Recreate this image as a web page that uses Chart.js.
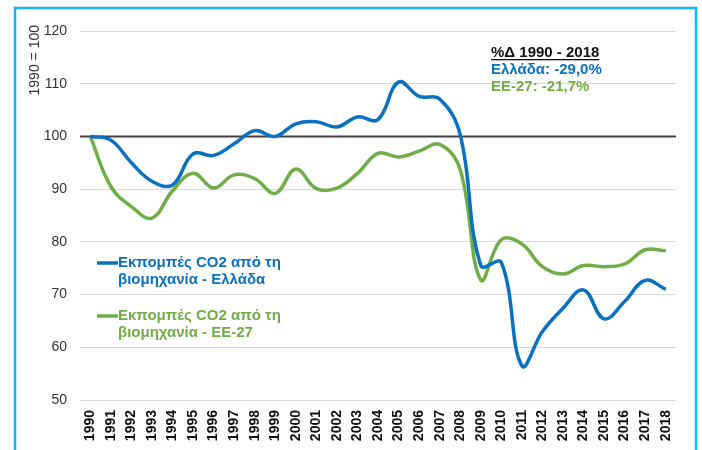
<!DOCTYPE html>
<html>
<head>
<meta charset="utf-8">
<script src="https://cdn.jsdelivr.net/npm/chart.js@4.4.1/dist/chart.umd.min.js"></script>
<style>
html,body{margin:0;padding:0;background:#fff;}
#wrap{position:relative;width:702px;height:450px;}
</style>
</head>
<body>
<div id="wrap"><canvas id="c" width="702" height="450"></canvas></div>
<script>
const years = ['1990','1991','1992','1993','1994','1995','1996','1997','1998','1999','2000','2001','2002','2003','2004','2005','2006','2007','2008','2009','2010','2011','2012','2013','2014','2015','2016','2017','2018'];
const greece = [100,99.3,95,91.5,90.8,96.7,96.4,98.6,101.1,100,102.4,102.8,101.8,103.7,103.2,110.3,107.6,107.1,100.3,75.5,76.1,56.5,63,67.4,70.9,65.4,68.7,72.7,71.0];
const eu27 = [100,90.5,86.7,84.5,89.7,93.0,90.2,92.7,92,89.2,93.8,90.1,90.2,93,96.8,96.1,97.2,98.5,93.7,72.8,80.4,79.6,75.3,73.9,75.5,75.3,75.8,78.5,78.3];
const seriesLabels = [['Εκπομπές CO2 από τη','βιομηχανία - Ελλάδα'],['Εκπομπές CO2 από τη','βιομηχανία - ΕΕ-27']];
const yTicks = [50,60,70,80,90,100,110,120];
const yTitle = '1990 = 100';
const noteTitle = '%Δ 1990 - 2018';
const noteLines = ['Ελλάδα: -29,0%','ΕΕ-27: -21,7%'];
const baseline = 100;

const BLUE = '#0a70c0';
const GREEN = '#70ad47';
const FONT = "'Liberation Sans', Arial, sans-serif";

const extras = {
  id: 'extras',
  beforeDraw(chart) {
    const ctx = chart.ctx;
    ctx.save();
    ctx.fillStyle = '#fff';
    ctx.fillRect(0, 0, chart.width, chart.height);
    ctx.restore();
  },
  beforeDatasetsDraw(chart) {
    const ctx = chart.ctx, ca = chart.chartArea, y = chart.scales.y;
    const py = y.getPixelForValue(baseline);
    ctx.save();
    ctx.strokeStyle = '#404040';
    ctx.lineWidth = 2;
    ctx.beginPath();
    ctx.moveTo(ca.left, py);
    ctx.lineTo(ca.right, py);
    ctx.stroke();
    ctx.restore();
  },
  afterDraw(chart) {
    const ctx = chart.ctx;
    ctx.save();
    // frame
    ctx.strokeStyle = '#14b4ee';
    ctx.lineWidth = 2.5;
    ctx.beginPath();
    ctx.moveTo(15, 470);
    ctx.lineTo(15, 8);
    ctx.lineTo(696, 8);
    ctx.lineTo(696, 470);
    ctx.stroke();
    // y title
    ctx.save();
    ctx.translate(35, 25);
    ctx.rotate(-Math.PI / 2);
    ctx.fillStyle = '#333';
    ctx.font = '14px ' + FONT;
    ctx.textAlign = 'right';
    ctx.textBaseline = 'middle';
    ctx.fillText(yTitle, 0, 0);
    ctx.restore();
    // legend
    const colors = [BLUE, GREEN];
    const ys = [263, 316];
    chart.data.datasets.forEach((ds, i) => {
      ctx.strokeStyle = colors[i];
      ctx.lineWidth = 3.5;
      ctx.beginPath();
      ctx.moveTo(97, ys[i]);
      ctx.lineTo(118, ys[i]);
      ctx.stroke();
      ctx.fillStyle = colors[i];
      ctx.font = 'bold 15px ' + FONT;
      ctx.textAlign = 'left';
      ctx.textBaseline = 'middle';
      seriesLabels[i].forEach((t, k) => ctx.fillText(t, 118, ys[i] + k * 17));
    });
    // note
    ctx.textAlign = 'left';
    ctx.textBaseline = 'alphabetic';
    ctx.font = 'bold 15px ' + FONT;
    ctx.fillStyle = '#111';
    ctx.fillText(noteTitle, 491, 57);
    const w = ctx.measureText(noteTitle).width;
    ctx.fillRect(491, 59, w, 1.3);
    ctx.fillStyle = BLUE;
    ctx.fillText(noteLines[0], 491, 74);
    ctx.fillStyle = GREEN;
    ctx.fillText(noteLines[1], 491, 91);
    ctx.restore();
  }
};

new Chart(document.getElementById('c'), {
  type: 'line',
  data: {
    labels: years,
    datasets: [
      { label: seriesLabels[0].join(' '), data: greece, borderColor: BLUE, backgroundColor: BLUE, borderWidth: 3.5, tension: 0.4, pointRadius: 0, fill: false },
      { label: seriesLabels[1].join(' '), data: eu27, borderColor: GREEN, backgroundColor: GREEN, borderWidth: 3.5, tension: 0.4, pointRadius: 0, fill: false }
    ]
  },
  options: {
    responsive: false,
    animation: false,
    layout: { padding: { left: 0, right: 26, top: 31, bottom: 0 } },
    plugins: { legend: { display: false }, tooltip: { enabled: false } },
    scales: {
      x: {
        offset: true,
        grid: { display: false, drawTicks: false },
        border: { display: false },
        ticks: { autoSkip: false, maxRotation: 90, minRotation: 90, padding: 10, color: '#111', font: { family: FONT, size: 14, weight: 'bold' } },
        afterFit(s) { s.height = 50; }
      },
      y: {
        min: 50, max: 120,
        afterBuildTicks(s) { s.ticks = yTicks.map(v => ({ value: v })); },
        grid: { color: '#d9d9d9', lineWidth: 1, drawTicks: false },
        border: { display: false },
        ticks: { padding: 13, color: '#333', font: { family: FONT, size: 14 } },
        afterFit(s) { s.width = 80; }
      }
    }
  },
  plugins: [extras]
});
</script>
</body>
</html>
